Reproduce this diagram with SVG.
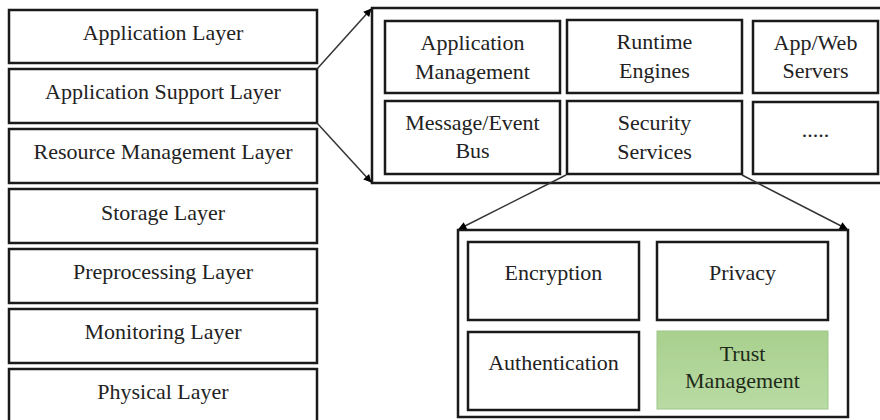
<svg xmlns="http://www.w3.org/2000/svg" width="880" height="420" viewBox="0 0 880 420">
<style>
.box{fill:#fff;stroke:#1a1a1a;stroke-width:2.5}
.cont{fill:#fff;stroke:#1a1a1a;stroke-width:2.5}
text{font-family:'Liberation Serif','Times New Roman',Tinos,'DejaVu Serif','Noto Serif',Times,serif;font-size:22px;fill:#222;text-anchor:middle}
.conn{stroke:#333;stroke-width:1.5;fill:none;marker-end:url(#ah)}
</style>
<defs>
<marker id="ah" viewBox="0 0 10 10" refX="9" refY="5" markerWidth="9" markerHeight="8" markerUnits="userSpaceOnUse" orient="auto">
<path d="M0,0 L10,5 L0,10 z" fill="#000"/>
</marker>
<linearGradient id="green" x1="0" y1="0" x2="0" y2="1">
<stop offset="0" stop-color="#a9d08e"/>
<stop offset="1" stop-color="#b9dba4"/>
</linearGradient>
</defs>
<rect width="880" height="420" fill="#fff"/>

<g id="application-layer"><rect class="box" x="9" y="10" width="308" height="53"/><text x="163" y="40">Application Layer</text></g>
<g id="application-support-layer"><rect class="box" x="9" y="69" width="308" height="54"/><text x="163" y="99">Application Support Layer</text></g>
<g id="resource-management-layer"><rect class="box" x="9" y="129" width="308" height="54"/><text x="163" y="159">Resource Management Layer</text></g>
<g id="storage-layer"><rect class="box" x="9" y="189" width="308" height="54"/><text x="163" y="220">Storage Layer</text></g>
<g id="preprocessing-layer"><rect class="box" x="9" y="249" width="308" height="54"/><text x="163" y="279">Preprocessing Layer</text></g>
<g id="monitoring-layer"><rect class="box" x="9" y="309" width="308" height="54"/><text x="163" y="339">Monitoring Layer</text></g>
<g id="physical-layer"><rect class="box" x="9" y="369" width="308" height="60"/><text x="163" y="399">Physical Layer</text></g>

<g id="support-container"><rect class="cont" x="372" y="8" width="520" height="175"/></g>
<g id="application-management"><rect class="box" x="385" y="21" width="175" height="72"/><text x="472.5" y="50">Application</text><text x="472.5" y="79">Management</text></g>
<g id="runtime-engines"><rect class="box" x="567" y="20" width="175" height="73"/><text x="654.5" y="49">Runtime</text><text x="654.5" y="78">Engines</text></g>
<g id="app-web-servers"><rect class="box" x="753" y="21" width="125" height="72"/><text x="815.5" y="50">App/Web</text><text x="815.5" y="78">Servers</text></g>
<g id="message-event-bus"><rect class="box" x="385" y="101" width="175" height="73"/><text x="472.5" y="130">Message/Event</text><text x="472.5" y="158">Bus</text></g>
<g id="security-services"><rect class="box" x="567" y="101" width="175" height="73"/><text x="654.5" y="130">Security</text><text x="654.5" y="159">Services</text></g>
<g id="more"><rect class="box" x="753" y="102" width="125" height="72"/><text x="815.5" y="137">.....</text></g>

<g id="security-container"><rect class="cont" x="458" y="230" width="390" height="187"/></g>
<g id="encryption"><rect class="box" x="468" y="242" width="171" height="78"/><text x="553.5" y="280">Encryption</text></g>
<g id="privacy"><rect class="box" x="657" y="242" width="171" height="78"/><text x="742.5" y="280">Privacy</text></g>
<g id="authentication"><rect class="box" x="468" y="332" width="171" height="78"/><text x="553.5" y="370">Authentication</text></g>
<g id="trust-management"><rect x="657" y="331" width="171" height="78" fill="url(#green)" stroke="#9cc78a" stroke-width="1"/><text x="742.5" y="361" style="fill:#1e2a18">Trust</text><text x="742.5" y="388" style="fill:#1e2a18">Management</text></g>

<g id="connectors">
<line class="conn" x1="317" y1="69" x2="371" y2="9"/>
<line class="conn" x1="317" y1="123" x2="371" y2="182"/>
<line class="conn" x1="566" y1="175" x2="459" y2="229"/>
<line class="conn" x1="742" y1="175" x2="847" y2="229"/>
</g>
</svg>
